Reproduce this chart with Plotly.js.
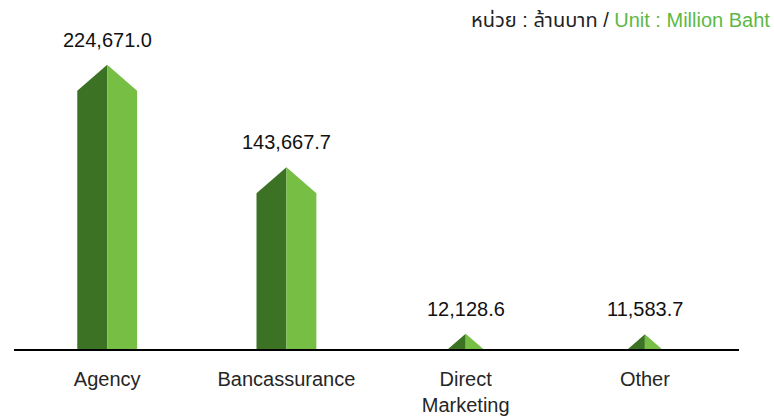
<!DOCTYPE html>
<html>
<head>
<meta charset="utf-8">
<script src="https://cdn.plot.ly/plotly-3.0.1.min.js"></script>
<style>html,body{margin:0;padding:0;background:#fff;}#chart{width:774px;height:420px;}</style>
</head>
<body>
<div id="chart"></div>
<script>
const categories = ["Agency", "Bancassurance", "Direct<br>Marketing", "Other"];
const values = [224671.0, 143667.7, 12128.6, 11583.7];
const valueLabels = ["224,671.0", "143,667.7", "12,128.6", "11,583.7"];
const unitText = "หน่วย : ล้านบาท / ";
const unitTextEn = "Unit : Million Baht";

const darkGreen = "#3b7224";
const lightGreen = "#76bf44";
const FONT = "Arial, 'Liberation Sans', 'Noto Sans Thai', 'Noto Sans', sans-serif";

// geometry in axis units
const yMax = 260000;
const halfW = 0.167;      // half bar width in category units
const tipH = 20550;       // height of the pointed tip in value units

const traces = [];
values.forEach((v, i) => {
  let hw = halfW, shoulder;
  if (v > tipH) { shoulder = v - tipH; }
  else { shoulder = 0; hw = halfW * v / tipH; }
  traces.push({
    type: "scatter", mode: "lines", fill: "toself", fillcolor: darkGreen,
    line: {width: 0, color: darkGreen}, hoverinfo: "skip", showlegend: false,
    x: [i - hw, i - hw, i, i, i - hw],
    y: [0, shoulder, v, 0, 0]
  });
  traces.push({
    type: "scatter", mode: "lines", fill: "toself", fillcolor: lightGreen,
    line: {width: 0, color: lightGreen}, hoverinfo: "skip", showlegend: false,
    x: [i, i, i + hw, i + hw, i],
    y: [0, v, shoulder, 0, 0]
  });
});

const annotations = values.map((v, i) => ({
  x: i, y: v, xref: "x", yref: "y", text: valueLabels[i],
  showarrow: false, xanchor: "center", yanchor: "bottom", yshift: 12,
  font: {family: FONT, size: 20, color: "#111111"}
}));
annotations.push({
  x: 1, y: 1, xref: "paper", yref: "paper", xanchor: "right", yanchor: "middle",
  xshift: 33, yshift: 0, showarrow: false,
  text: unitText + "<span style='color:#5cb946'>" + unitTextEn + "</span>",
  font: {family: FONT, size: 20, color: "#222222"}
});

const layout = {
  width: 774, height: 420,
  margin: {l: 14, r: 35, t: 20, b: 71},
  paper_bgcolor: "#ffffff", plot_bgcolor: "#ffffff",
  showlegend: false,
  xaxis: {
    range: [-0.52, 3.525], tickmode: "array",
    tickvals: categories.map((c, i) => i), ticktext: categories,
    showgrid: false, zeroline: false, showline: true,
    linecolor: "#000000", linewidth: 2, ticks: "",
    ticklabelstandoff: 11,
    tickfont: {family: FONT, size: 20, color: "#262626"},
    fixedrange: true
  },
  yaxis: {range: [0, yMax], visible: false, fixedrange: true},
  annotations: annotations
};

Plotly.newPlot("chart", traces, layout, {displayModeBar: false, staticPlot: true});
</script>
</body>
</html>
